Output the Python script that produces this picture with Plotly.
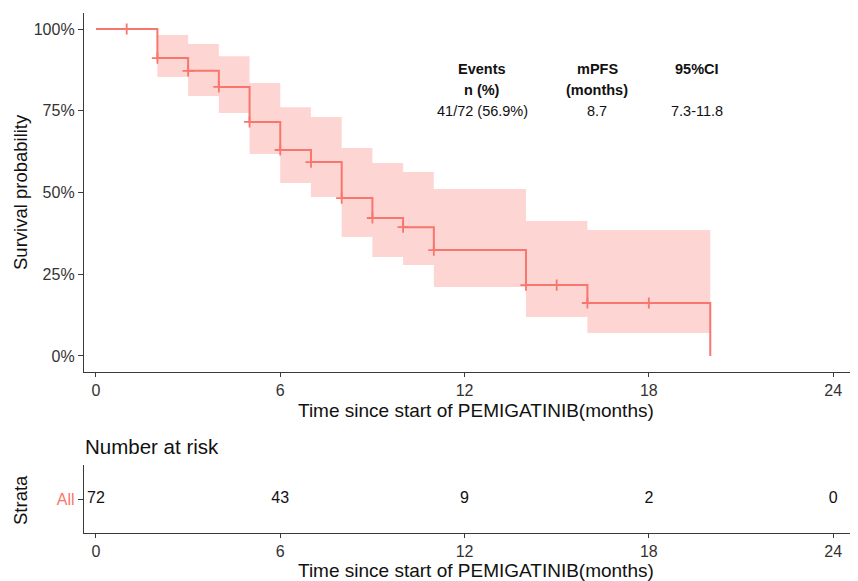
import numpy as np
import plotly.graph_objects as go

# ---------------- data ----------------
times = [0, 2, 3, 4, 5, 6, 7, 8, 9, 10, 11, 14, 16, 20]
surv = [1.0, 0.911, 0.872, 0.823, 0.716, 0.630, 0.593, 0.483, 0.422, 0.394, 0.324, 0.217, 0.162, 0.0]
ci_upper = [1.0, 0.982, 0.954, 0.917, 0.835, 0.761, 0.731, 0.636, 0.590, 0.563, 0.511, 0.413, 0.385, 0.385]
ci_lower = [1.0, 0.853, 0.795, 0.743, 0.618, 0.529, 0.486, 0.364, 0.303, 0.278, 0.211, 0.119, 0.070, 0.070]
censor_times = [1, 2, 3, 4, 5, 6, 7, 8, 9, 10, 11, 14, 15, 16, 18]
risk_times = [0, 6, 12, 18, 24]
risk_counts = [72, 43, 9, 2, 0]
x_ticks = [0, 6, 12, 18, 24]
y_ticks = [0, 0.25, 0.5, 0.75, 1.0]
y_tick_labels = ["0%", "25%", "50%", "75%", "100%"]
stats_head1 = ["Events", "mPFS", "95%CI"]
stats_head2 = ["n (%)", "(months)", ""]
stats_values = ["41/72 (56.9%)", "8.7", "7.3-11.8"]
x_title = "Time since start of PEMIGATINIB(months)"

# ---------------- style ----------------
OFF = 8  # page body margin
W, H = 858 - OFF, 581 - OFF
RED = "#F8766D"
BAND = "rgba(248,118,109,0.30)"
AX = "#3a3a3a"
FONT = "Liberation Sans, Arial, sans-serif"


def px(x):
    return (x - OFF) / W


def py(y):
    return 1 - (y - OFF) / H


# censor marks sit on the step curve
t_arr = np.array(times)
censor_y = [surv[int(np.searchsorted(t_arr, t, side="right")) - 1] for t in censor_times]

fig = go.Figure()

fig.add_trace(go.Scatter(x=times, y=ci_upper, mode="lines", line=dict(width=0, shape="hv"),
                         hoverinfo="skip", showlegend=False, xaxis="x", yaxis="y"))
fig.add_trace(go.Scatter(x=times, y=ci_lower, mode="lines", line=dict(width=0, shape="hv"),
                         fill="tonexty", fillcolor=BAND, hoverinfo="skip", showlegend=False,
                         xaxis="x", yaxis="y"))
fig.add_trace(go.Scatter(x=times, y=surv, mode="lines", line=dict(color=RED, width=2, shape="hv"),
                         showlegend=False, xaxis="x", yaxis="y"))
fig.add_trace(go.Scatter(x=censor_times, y=censor_y, mode="markers",
                         marker=dict(symbol="cross-thin", size=8, line=dict(color=RED, width=1.8)),
                         showlegend=False, xaxis="x", yaxis="y"))

# risk table
fig.add_trace(go.Scatter(x=risk_times, y=[0] * len(risk_times), mode="text",
                         text=[str(v) for v in risk_counts],
                         textfont=dict(size=16, color="#111", family=FONT),
                         showlegend=False, xaxis="x2", yaxis="y2"))

x_range = [-0.39, 24.81]
common_x = dict(range=x_range, tickvals=x_ticks, ticktext=[str(v) for v in x_ticks],
                showline=True, linecolor=AX, linewidth=1.3, ticks="outside", ticklen=4,
                tickcolor=AX, tickwidth=1.2, showgrid=False, zeroline=False,
                tickfont=dict(size=16, color="#333", family=FONT), automargin=False)

fig.update_layout(
    width=W, height=H,
    margin=dict(l=0, r=0, t=0, b=0),
    paper_bgcolor="white", plot_bgcolor="white",
    font=dict(family=FONT),
    xaxis=dict(domain=[px(84), 1.0], anchor="y", **common_x),
    yaxis=dict(domain=[py(372), py(13)], anchor="x", range=[-0.049, 1.049],
               tickvals=y_ticks, ticktext=y_tick_labels,
               showline=True, linecolor=AX, linewidth=1.3, ticks="outside", ticklen=5,
               tickcolor=AX, tickwidth=1.2, showgrid=False, zeroline=False,
               tickfont=dict(size=16, color="#333", family=FONT), automargin=False),
    xaxis2=dict(domain=[px(84), 1.0], anchor="y2", **common_x),
    yaxis2=dict(domain=[py(533), py(465)], anchor="x2", range=[-1, 1],
                tickvals=[0], ticktext=["All"],
                showline=True, linecolor=AX, linewidth=1.3, ticks="outside", ticklen=5,
                tickcolor=AX, tickwidth=1.2, showgrid=False, zeroline=False,
                tickfont=dict(size=16, color=RED, family=FONT), automargin=False),
)

ann = []


def add_text(x, y, text, size, bold=False, angle=0, xanchor="center", color="#111"):
    t = f"<b>{text}</b>" if bold else text
    ann.append(dict(x=px(x), y=py(y), xref="paper", yref="paper", text=t, showarrow=False,
                    textangle=angle, xanchor=xanchor, yanchor="middle",
                    font=dict(size=size, color=color, family=FONT)))


# axis titles
add_text(476, 411, x_title, 19)
add_text(476, 570, x_title, 19)
add_text(20, 192, "Survival probability", 18.5, angle=-90)
add_text(20, 500, "Strata", 18.5, angle=-90)
add_text(83, 446, "Number at risk", 20.5, xanchor="left")

# stats table
stats_x = [482, 597, 697]
for i in range(3):
    add_text(stats_x[i], 69, stats_head1[i], 14.5, bold=True)
    if stats_head2[i]:
        add_text(stats_x[i], 90, stats_head2[i], 14.5, bold=True)
    add_text(stats_x[i], 111, stats_values[i], 14.5)

fig.update_layout(annotations=ann)

fig.write_html("out.html")
